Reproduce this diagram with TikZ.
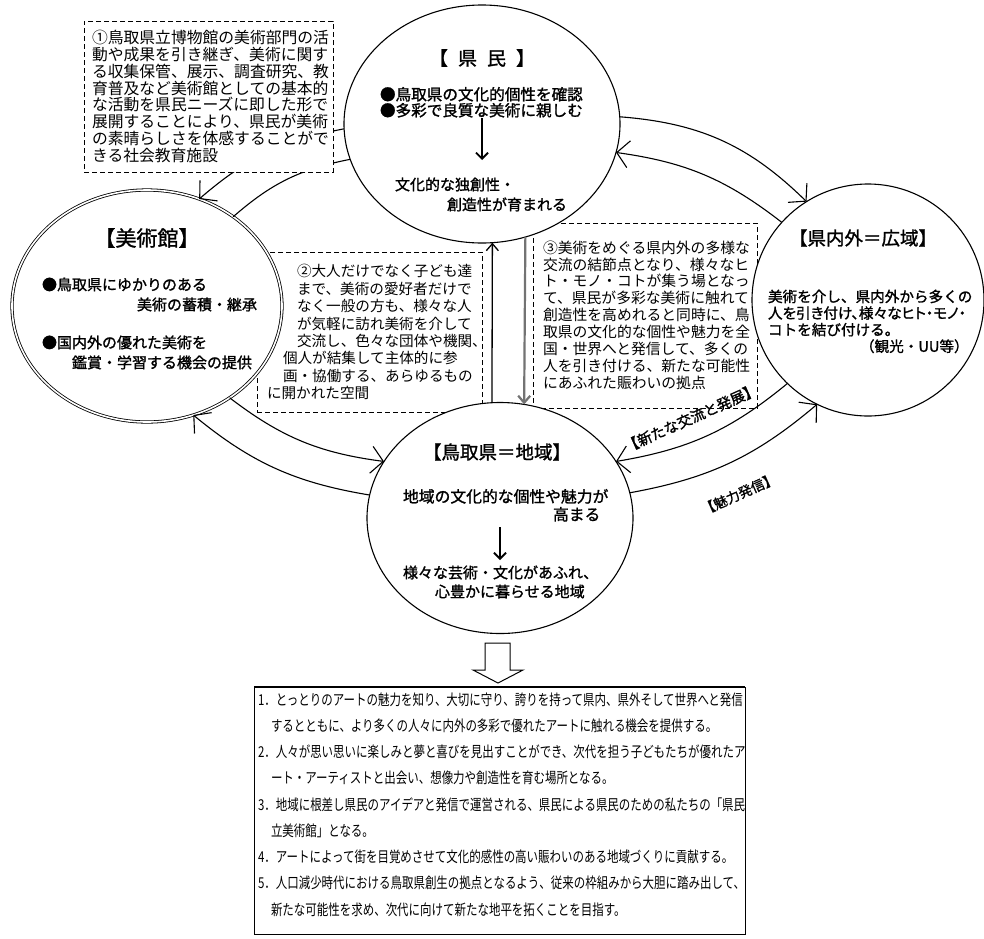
\documentclass[tikz,border=0pt]{standalone}
\usepackage{fontspec}
\setmainfont{Noto Sans CJK JP}
\newfontfamily\jpb[FakeBold=1.3]{Noto Sans CJK JP}
\newfontfamily\jpc[FakeStretch=0.765]{Noto Sans CJK JP}
\usetikzlibrary{arrows.meta,shapes.geometric}
\newcommand\fsz[2]{\fontsize{#1pt}{#2pt}\selectfont}
\begin{document}
\begin{tikzpicture}[x=1pt,y=-1pt,
  every node/.style={inner sep=0pt,outer sep=0pt},
  circ/.style={ellipse,draw,line width=1.1pt,fill=white},
  dbox/.style={rectangle,draw,dash pattern=on 5pt off 3pt,line width=1pt,fill=white,anchor=north west},
  conn/.style={line width=1.1pt,-{Straight Barb[length=12pt,width=27pt]}},
  plainarc/.style={line width=1.1pt},
  inarr/.style={line width=1.8pt,-{Straight Barb[length=6pt,width=12pt]}},
  boxtxt/.style={anchor=north west,align=left},
  lab/.style={font=\jpb\fsz{14.5}{14.5},rotate=24},
]
\fill[white] (0,0) rectangle (984,938);
\useasboundingbox (0,0) rectangle (984,938);

% dashed boxes 2 and 3 (partly hidden behind the ellipses)
\node[dbox,minimum width=225pt,minimum height=160pt] (box2) at (257,252) {};
\node[dbox,minimum width=224pt,minimum height=185pt] (box3) at (533,223) {};

% ellipses
\node[circ,minimum width=276pt,minimum height=238pt] (kenmin) at (482,124) {};
\node[circ,double,double distance=1.6pt,line width=0.8pt,minimum width=270pt,minimum height=232pt] (bijutsu) at (147,306) {};
\node[circ,minimum width=232pt,minimum height=232pt] (kennai) at (868,300) {};
\node[circ,minimum width=266pt,minimum height=231pt] (tori) at (500,518) {};

% arcs between the ellipses
\draw[conn] (kenmin.3) to[bend left=20] (kennai.122);
\draw[conn] (kennai.138) to[bend right=15] (kenmin.-12);
\draw[conn] (kennai.-134) to[bend left=15] (tori.26);
\draw[conn] (tori.11) to[bend right=15] (kennai.-116);
\draw[conn] (bijutsu.-48) to[bend right=15] (tori.154);
\draw[conn] (tori.170) to[bend left=15] (bijutsu.-67);
\draw[conn] (kenmin.182) to[bend right=15] (bijutsu.64);
\draw[plainarc] (bijutsu.46) to[bend left=15] (kenmin.195);

% vertical arrows between kenmin and tori
\draw[line width=1.3pt,-{Straight Barb[length=7pt,width=12pt]}] (tori.94) -- (kenmin.-85);
\draw[line width=2.2pt,draw=black!55,-{Straight Barb[length=7pt,width=12pt]}] (kenmin.-69) -- (tori.78);

% dashed box 1 (covers the arcs)
\node[dbox,minimum width=249pt,minimum height=151pt] (box1) at (84,21) {};

% box texts
\node[boxtxt,font=\fsz{15.8}{16.9}] (t1) at (92,30) {①鳥取県立博物館の美術部門の活\\動や成果を引き継ぎ、美術に関す\\る収集保管、展示、調査研究、教\\育普及など美術館としての基本的\\な活動を県民ニーズに即した形で\\展開することにより、県民が美術\\の素晴らしさを体感することがで\\きる社会教育施設};
\node[boxtxt,font=\fsz{14.6}{17.4}] (t2) at (267,264.5) {\hspace{30pt}②大人だけでなく子ども達\\\hspace{30pt}まで、美術の愛好者だけで\\\hspace{30pt}なく一般の方も、様々な人\\\hspace{30pt}が気軽に訪れ美術を介して\\\hspace{30pt}交流し、色々な団体や機関、\\\hspace{16pt}個人が結集して主体的に参\\\hspace{16pt}画・協働する、あらゆるもの\\に開かれた空間};
\node[boxtxt,font=\fsz{14.8}{16.9}] (t3) at (543,240.6) {③美術をめぐる県内外の多様な\\交流の結節点となり、様々なヒ\\ト・モノ・コトが集う場となっ\\て、県民が多彩な美術に触れて\\創造性を高めれると同時に、鳥\\取県の文化的な個性や魅力を全\\国・世界へと発信して、多くの\\人を引き付ける、新たな可能性\\にあふれた賑わいの拠点};

% kenmin texts
\node[font=\jpb\fsz{19}{19}] (kt) at (482,58) {【\hspace{10pt}県\hspace{10pt}民\hspace{10pt}】};
\node[boxtxt,font=\jpb\fsz{15.6}{16}] (kb) at (380,87) {●鳥取県の文化的個性を確認\\●多彩で良質な美術に親しむ};
\coordinate (ka1) at (482,118);
\coordinate (ka2) at (482,160);
\draw[inarr] (ka1) -- (ka2);
\node[boxtxt,font=\jpb\fsz{15}{20}] (kc) at (395,177.5) {文化的な独創性・\\\hspace{52pt}創造性が育まれる};

% bijutsukan texts
\node[font=\jpb\fsz{21}{21}] (bt) at (147,238) {【美術館】};
\node[boxtxt,font=\jpb\fsz{15}{20}] (bb1) at (42,277.5) {●鳥取県にゆかりのある\\\hspace{95pt}美術の蓄積・継承};
\node[boxtxt,font=\jpb\fsz{15}{20}] (bb2) at (42,335.5) {●国内外の優れた美術を\\\hspace{30pt}鑑賞・学習する機会の提供};

% kennai texts
\node[font=\jpb\fsz{18.5}{18.5}] (rt) at (863,238) {【県内外＝広域】};
\node[boxtxt,font=\jpb\fsz{14.6}{16.6}] (rb) at (768,289.7) {美術を介し、県内外から多くの\\{\addfontfeatures{RawFeature=+palt}人を引き付け、様々なヒト・モノ・}\\コトを結び付ける。\\\hspace{92pt}（観光・UU等）};

% tottori texts
\node[font=\jpb\fsz{18.5}{18.5}] (tt) at (497,452) {【鳥取県＝地域】};
\node[boxtxt,font=\jpb\fsz{15.8}{18}] (tb1) at (403,489) {地域の文化的な個性や魅力が\\\hspace{150pt}高まる};
\coordinate (ta1) at (500,527);
\coordinate (ta2) at (500,560);
\draw[inarr] (ta1) -- (ta2);
\node[boxtxt,font=\jpb\fsz{15}{19}] (tb2) at (403,565.5) {様々な芸術・文化があふれ、\\\hspace{32pt}心豊かに暮らせる地域};

% arc labels
\node[lab] (l1) at (691,418) {【新たな交流と発展】};
\node[lab,font=\jpb\fsz{13.5}{13.5}] (l2) at (739,494) {【魅力発信】};

% hollow arrow to the goal box
\draw[line width=1pt,fill=white] (485,643) -- (510,643) -- (510,670) -- (523,670) -- (498,683) -- (473,670) -- (485,670) -- cycle;

% goal box
\node[rectangle,draw,line width=0.9pt,anchor=north west,minimum width=491pt,minimum height=247pt] (goal) at (254,687) {};
\draw[line width=2pt] (goal.north west) -- (goal.north east);
\node[boxtxt,font=\jpc\fsz{15}{26.25}] (gt) at (258,692.5) {1．とっとりのアートの魅力を知り、大切に守り、誇りを持って県内、県外そして世界へと発信\\\hspace{13pt}するとともに、より多くの人々に内外の多彩で優れたアートに触れる機会を提供する。\\2．人々が思い思いに楽しみと夢と喜びを見出すことができ、次代を担う子どもたちが優れたア\\\hspace{13pt}ート・アーティストと出会い、想像力や創造性を育む場所となる。\\3．地域に根差し県民のアイデアと発信で運営される、県民による県民のための私たちの「県民\\\hspace{13pt}立美術館」となる。\\4．アートによって街を目覚めさせて文化的感性の高い賑わいのある地域づくりに貢献する。\\5．人口減少時代における鳥取県創生の拠点となるよう、従来の枠組みから大胆に踏み出して、\\\hspace{13pt}新たな可能性を求め、次代に向けて新たな地平を拓くことを目指す。};
\end{tikzpicture}
\end{document}
